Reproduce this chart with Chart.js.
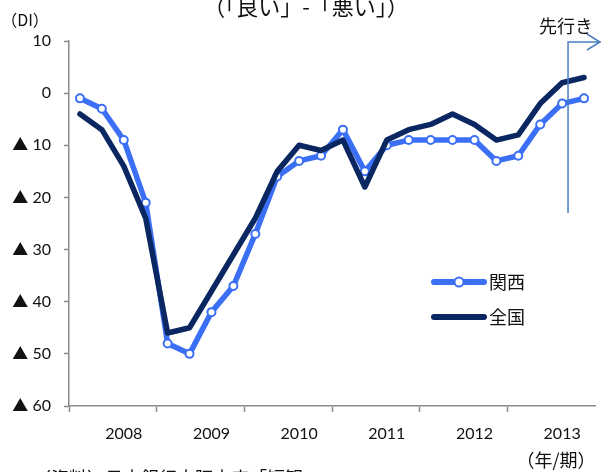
<!DOCTYPE html>
<html>
<head>
<meta charset="utf-8">
<script src="https://cdn.jsdelivr.net/npm/chart.js@4/dist/chart.umd.min.js"></script>
<style>
  html, body { margin: 0; padding: 0; background: #fff; }
  #wrap { width: 601px; height: 472px; position: relative; }
</style>
</head>
<body>
<div id="wrap"><canvas id="diChart" width="601" height="472"></canvas></div>
<script>
/* 業況判断DI 関西 vs 全国 (quarterly, last point = 先行き) */
const quarters = [
  '08/3', '08/6', '08/9', '08/12', '09/3', '09/6', '09/9', '09/12',
  '10/3', '10/6', '10/9', '10/12', '11/3', '11/6', '11/9', '11/12',
  '12/3', '12/6', '12/9', '12/12', '13/3', '13/6', '13/9', '13/12',
];
const years = ['2008', '2009', '2010', '2011', '2012', '2013'];
const kansai = [-1, -3, -9, -21, -48, -50, -42, -37, -27, -16, -13, -12, -7, -15, -10, -9, -9, -9, -9, -13, -12, -6, -2, -1];
const zenkoku = [-4, -7, -14, -24, -46, -45, -38, -31, -24, -15, -10, -11, -9, -18, -9, -7, -6, -4, -6, -9, -8, -2, 2, 3];
const yTicks = [10, 0, -10, -20, -30, -40, -50, -60];
const forecastIdx = 22; // 先行き line sits just after this quarter
const forecastTo = -23;

const BLUE = '#3b6ff5';
const NAVY = '#0b2761';
const AXIS = '#8a8a8a';
const ARROW = '#4a7fc1';
const JP = '"Noto Sans CJK JP", sans-serif';
const NUM = 'Lato, "Noto Sans CJK JP", sans-serif';

const extras = {
  id: 'extras',
  afterDraw(chart) {
    const { ctx } = chart;
    const xs = chart.scales.x;
    const ys = chart.scales.y;
    ctx.save();
    ctx.fillStyle = '#111';

    // title (cut at the top edge)
    ctx.font = `22px ${JP}`;
    ctx.textAlign = 'center';
    ctx.textBaseline = 'alphabetic';
    ctx.fillText('（「良い」-「悪い」）', 306, 15);

    ctx.font = `16px ${JP}`;
    ctx.fillText('（DI）', 25, 26);

    ctx.font = `18px ${JP}`;
    ctx.fillText('先行き', 566, 33);
    ctx.fillText('（年/期）', 556, 467);

    ctx.textAlign = 'left';
    ctx.fillText('（資料）日本銀行大阪支店「短観', 33, 485);

    // forecast marker
    const step = xs.getPixelForValue(forecastIdx + 1) - xs.getPixelForValue(forecastIdx);
    const fx = xs.getPixelForValue(forecastIdx) + step * 0.27;
    const fy = ys.getPixelForValue(10) + 1;
    ctx.strokeStyle = ARROW;
    ctx.lineWidth = 1.5;
    ctx.beginPath();
    ctx.moveTo(fx, ys.getPixelForValue(forecastTo));
    ctx.lineTo(fx, fy);
    ctx.lineTo(chart.width, fy);
    ctx.moveTo(chart.width - 14, fy - 8);
    ctx.lineTo(chart.width - 1, fy);
    ctx.lineTo(chart.width - 14, fy + 8);
    ctx.stroke();

    // legend
    const items = [
      { label: '関西', color: BLUE, marker: true, y: 282 },
      { label: '全国', color: NAVY, marker: false, y: 317 },
    ];
    items.forEach((it) => {
      ctx.strokeStyle = it.color;
      ctx.lineWidth = 6;
      ctx.lineCap = 'round';
      ctx.beginPath();
      ctx.moveTo(434, it.y);
      ctx.lineTo(484, it.y);
      ctx.stroke();
      if (it.marker) {
        ctx.fillStyle = '#fff';
        ctx.lineWidth = 2;
        ctx.beginPath();
        ctx.arc(459, it.y, 4.5, 0, Math.PI * 2);
        ctx.fill();
        ctx.stroke();
      }
      ctx.fillStyle = '#111';
      ctx.font = `18px ${JP}`;
      ctx.textBaseline = 'middle';
      ctx.fillText(it.label, 489, it.y);
    });
    ctx.restore();
  },
};

new Chart(document.getElementById('diChart'), {
  type: 'line',
  data: {
    labels: quarters,
    datasets: [
      {
        label: '関西',
        data: kansai,
        borderColor: BLUE,
        backgroundColor: '#fff',
        borderWidth: 5.5,
        pointRadius: 4,
        pointBorderWidth: 2,
        pointBackgroundColor: '#fff',
        pointBorderColor: BLUE,
        borderCapStyle: 'round',
        borderJoinStyle: 'round',
        tension: 0,
        order: 2,
      },
      {
        label: '全国',
        data: zenkoku,
        borderColor: NAVY,
        borderWidth: 5.5,
        pointRadius: 0,
        borderCapStyle: 'round',
        borderJoinStyle: 'round',
        tension: 0,
        order: 1,
      },
    ],
  },
  options: {
    responsive: false,
    animation: false,
    layout: { padding: { top: 41, right: 5, bottom: 0, left: 0 } },
    plugins: { legend: { display: false }, tooltip: { enabled: false } },
    scales: {
      x: {
        type: 'category',
        offset: true,
        afterFit: (s) => { s.height = 66; },
        grid: {
          offset: true,
          drawOnChartArea: false,
          drawTicks: true,
          tickLength: 6,
          tickColor: (c) => (c.index % 4 === 0 ? AXIS : 'rgba(0,0,0,0)'),
          tickWidth: 1.5,
        },
        border: { display: true, color: AXIS, width: 1.5 },
        ticks: {
          autoSkip: false,
          maxRotation: 0,
          padding: 12,
          color: '#111',
          font: { family: NUM, size: 16 },
          callback: (v, i) => (i % 4 === 2 ? years[Math.floor(i / 4)] : ''),
        },
      },
      y: {
        min: -60,
        max: 10,
        afterFit: (s) => { s.width = 69; },
        afterBuildTicks: (s) => { s.ticks = yTicks.map((v) => ({ value: v })); },
        grid: { drawOnChartArea: false, drawTicks: true, tickLength: 5, tickColor: AXIS, tickWidth: 1.5 },
        border: { display: true, color: AXIS, width: 1.5 },
        ticks: {
          padding: 13,
          color: '#111',
          font: { family: NUM, size: 16 },
          callback: (v) => (v < 0 ? '▲ ' + (-v) : String(v)),
        },
      },
    },
  },
  plugins: [extras],
});
</script>
</body>
</html>
